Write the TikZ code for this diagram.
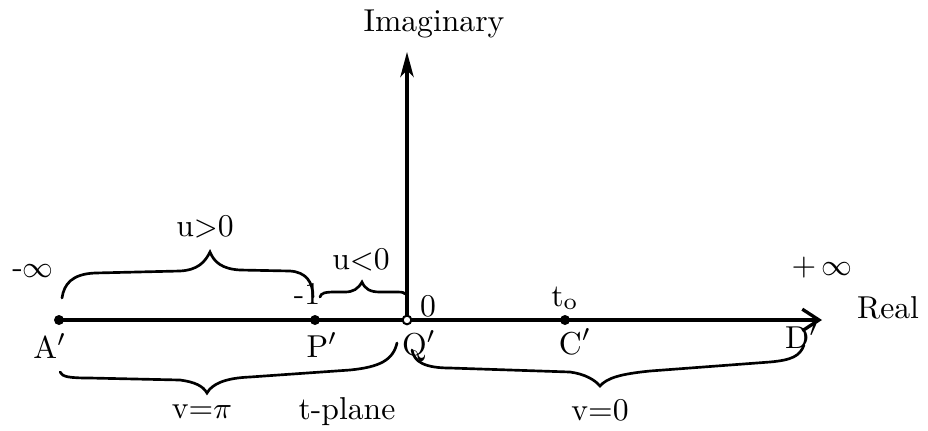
\documentclass[tikz,border=0pt]{standalone}
\usetikzlibrary{arrows.meta}
\begin{document}
\begin{tikzpicture}[x=0.3pt,y=-0.3pt,
  axis/.style={line width=1pt},
  brace/.style={line width=0.8pt, line cap=round},
  lbl/.style={font=\fontsize{9.5}{11}\selectfont, inner sep=0pt},
  dot/.style={circle, fill=black, inner sep=0pt, minimum size=3pt},
  odot/.style={circle, draw=black, fill=white, line width=0.6pt, inner sep=0pt, minimum size=2.6pt}]
\useasboundingbox (0,0) rectangle (928,430);
% points
\coordinate (O) at (407,320);
\coordinate (Xstart) at (59,320);
\coordinate (Xend) at (822,320);
\coordinate (Yend) at (407,52);
\draw[axis, -{Straight Barb[length=5pt,width=6.5pt]}] (Xstart) -- (Xend);
\draw[axis, -{Stealth[length=7.5pt,width=4pt,inset=2pt]}] (O) -- (Yend);
\node[dot] (A) at (Xstart) {};
\node[dot] (P) at (315,320) {};
\node[dot] (C) at (565,320) {};
\node[odot] (Q) at (O) {};
% point labels
\node[lbl] (Al) at (50,346) {A$'$};
\node[lbl] (Pl) at (322,345) {P$'$};
\node[lbl] (Ql) at (419,346) {Q$'$};
\node[lbl] (Cl) at (575,342) {C$'$};
\node[lbl] (Dl) at (802,336) {D$'$};
% other labels
\node[lbl] (imag) at (434,24) {Imaginary};
\node[lbl] (real) at (888,308) {Real};
\node[lbl] (minf) at (33,271) {-$\infty$};
\node[lbl] (pinf) at (822,268) {+\,$\infty$};
\node[lbl] (m1) at (307,294) {-1};
\node[lbl] (zero) at (428,306) {0};
\node[lbl] (t0) at (565,298) {t$_{\mathrm{o}}$};
\node[lbl] (ugt) at (205,227) {u$>$0};
\node[lbl] (ult) at (361,260) {u$<$0};
\node[lbl] (vpi) at (202,412) {v=$\pi$};
\node[lbl] (tpl) at (347,412) {t-plane};
\node[lbl] (vz) at (600,410) {v=0};
% braces
\draw[brace] (62,298) .. controls (64,284) and (72,274) .. (95,273)
  -- (180,271) .. controls (198,270) and (205,262) .. (210,252)
  .. controls (214,262) and (222,269) .. (240,270)
  -- (290,271) .. controls (306,272) and (313,282) .. (313,297);
\draw[brace] (320,297) .. controls (321,293) and (325,292) .. (335,292)
  -- (345,292) .. controls (353,292) and (358,289) .. (362,282)
  .. controls (365,289) and (370,292) .. (380,292)
  -- (398,292) .. controls (403,292) and (405,293) .. (405,294);
\draw[brace] (60,372) .. controls (62,377) and (70,378) .. (90,378)
  -- (180,380) .. controls (195,382) and (203,386) .. (207,393)
  .. controls (212,384) and (225,378) .. (250,377)
  -- (350,370) .. controls (380,367) and (393,360) .. (397,343);
\draw[brace] (412,350) .. controls (414,362) and (425,368) .. (450,368)
  -- (570,372) .. controls (585,374) and (595,380) .. (600,386)
  .. controls (607,378) and (620,374) .. (650,371)
  -- (770,362) .. controls (792,360) and (800,356) .. (804,345);
\end{tikzpicture}
\end{document}
